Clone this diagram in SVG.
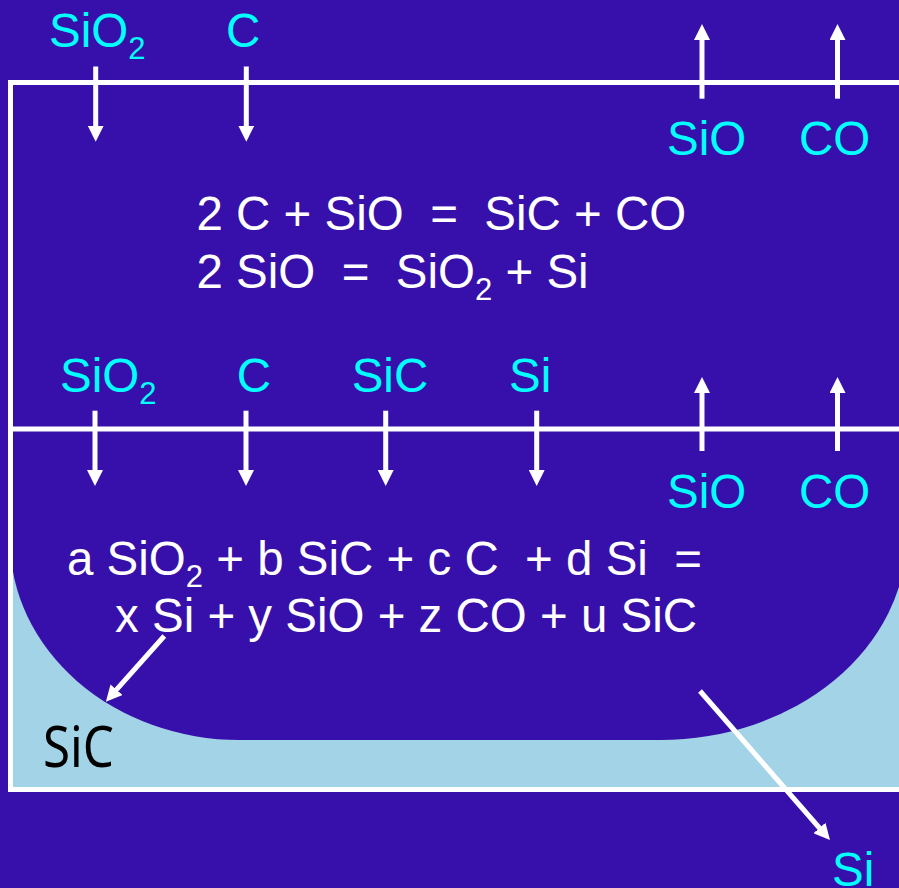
<svg xmlns="http://www.w3.org/2000/svg" width="899" height="888" viewBox="0 0 899 888">
<style>
text{font-family:"Liberation Sans",Arial,sans-serif;font-size:47.5px}
.cy{fill:#00FFFF}
.wt{fill:#FFFFFF}
.sub{font-size:31px}
.frame{stroke:#FFFFFF;stroke-width:5;fill:none}
.arr{stroke:#FFFFFF;stroke-width:5;fill:none;marker-end:url(#ah)}
</style>
<defs>
<marker id="ah" markerUnits="userSpaceOnUse" markerWidth="16" markerHeight="16" refX="6" refY="8" orient="auto">
<path d="M0,0 L16,8 L0,16 Z" fill="#FFFFFF"/>
</marker>
</defs>
<rect x="0" y="0" width="899" height="888" fill="#370FAA"/>
<g id="melt-zone">
<rect x="10" y="500" width="889" height="289" fill="#A2D3E6"/>
<path d="M10,430 L10,540 A230,200 0 0 0 240,740 L660,740 A247,205 0 0 0 907,535 L907,430 Z" fill="#370FAA"/>
</g>
<g id="frame">
<path class="frame" d="M899,82.5 L10.5,82.5 L10.5,789.5 L899,789.5"/>
<line class="frame" x1="10.5" y1="429" x2="899" y2="429"/>
</g>
<g id="connectors">
<line class="arr" x1="95.7" y1="66.5" x2="95.7" y2="131.7"/>
<line class="arr" x1="246.3" y1="66.5" x2="246.3" y2="131.7"/>
<line class="arr" x1="702" y1="98.7" x2="702" y2="34"/>
<line class="arr" x1="837.5" y1="98.7" x2="837.5" y2="34"/>
<line class="arr" x1="95" y1="410.7" x2="95" y2="476"/>
<line class="arr" x1="246" y1="410.7" x2="246" y2="476"/>
<line class="arr" x1="385.7" y1="410.7" x2="385.7" y2="476"/>
<line class="arr" x1="536.7" y1="410.7" x2="536.7" y2="476"/>
<line class="arr" x1="702" y1="451" x2="702" y2="387"/>
<line class="arr" x1="837.5" y1="451" x2="837.5" y2="387"/>
<line class="arr" x1="164.3" y1="636" x2="112.5" y2="694.2"/>
<line class="arr" x1="700" y1="691" x2="823.4" y2="832.5"/>
</g>
<g id="top-inputs">
<text class="cy" x="49" y="47">SiO<tspan class="sub" dy="12">2</tspan></text>
<text class="cy" x="226" y="47">C</text>
</g>
<g id="top-outputs">
<text class="cy" x="667" y="155">SiO</text>
<text class="cy" x="799" y="155">CO</text>
</g>
<g id="upper-reactions">
<text class="wt" x="196.5" y="230" xml:space="preserve">2 C + SiO  =  SiC + CO</text>
<text class="wt" x="196.5" y="288" xml:space="preserve">2 SiO  =  SiO<tspan class="sub" dy="12">2</tspan><tspan dy="-12"> + Si</tspan></text>
</g>
<g id="middle-inputs">
<text class="cy" x="60" y="391.7">SiO<tspan class="sub" dy="12">2</tspan></text>
<text class="cy" x="236.7" y="391.7">C</text>
<text class="cy" x="351.7" y="391.7">SiC</text>
<text class="cy" x="509" y="391.7">Si</text>
</g>
<g id="middle-outputs">
<text class="cy" x="667" y="508">SiO</text>
<text class="cy" x="799" y="508">CO</text>
</g>
<g id="lower-reaction">
<text class="wt" x="67" y="575" xml:space="preserve">a SiO<tspan class="sub" dy="12">2</tspan><tspan dy="-12"> + b SiC + c C  + d Si  =</tspan></text>
<text class="wt" x="115" y="632" xml:space="preserve">x Si + y SiO + z CO + u SiC</text>
</g>
<g id="sic-label">
<text x="43" y="767" style="font-family:'Noto Sans','Open Sans',sans-serif;font-size:56px" fill="#000000" textLength="71" lengthAdjust="spacingAndGlyphs">SiC</text>
</g>
<g id="si-output">
<text class="cy" x="832" y="886">Si</text>
</g>
</svg>
